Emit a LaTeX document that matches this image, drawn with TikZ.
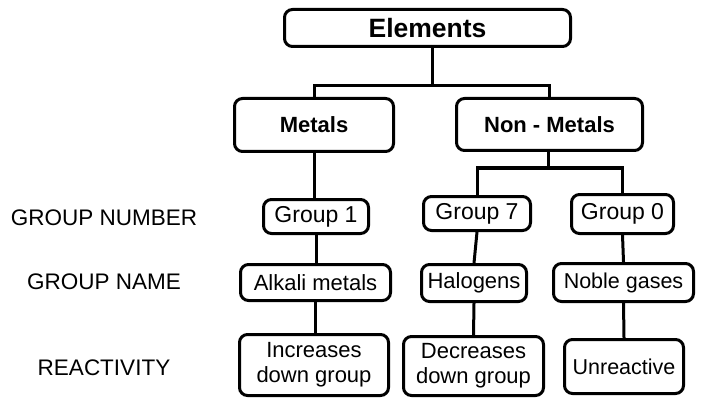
\documentclass[tikz,border=0pt]{standalone}
\usepackage{fontspec}
\setmainfont{Liberation Sans}
\begin{document}
\begin{tikzpicture}[x=1pt,y=-1pt,
  box/.style={draw, line width=3pt, rounded corners=8pt, inner sep=0pt,
    align=center, font=\fontsize{22}{25}\selectfont},
  groupbox/.style={box, font=\fontsize{23}{26}\selectfont},
  bigbox/.style={box, font=\fontsize{22}{26}\selectfont\bfseries},
  rowlabel/.style={inner sep=0pt, font=\fontsize{22.5}{25}\selectfont},
  link/.style={line width=3pt}]
\useasboundingbox (0,0) rectangle (703,398);

% top level
\node[bigbox, font=\fontsize{26.5}{29}\selectfont\bfseries,
  minimum width=286pt, minimum height=37pt] (elements) at (427.5,28) {Elements};
\node[bigbox, minimum width=159pt, minimum height=53pt] (metals) at (314,125) {Metals};
\node[bigbox, minimum width=186pt, minimum height=52pt] (nonmetals) at (549.5,124.5) {Non - Metals};

% group numbers
\node[groupbox, minimum width=105pt, minimum height=34pt] (g1) at (316,216.5) {Group 1};
\node[groupbox, minimum width=107pt, minimum height=34pt] (g7) at (477,213.5) {Group 7};
\node[groupbox, minimum width=102pt, minimum height=39pt] (g0) at (622.5,214) {Group 0};

% group names
\node[box, minimum width=150pt, minimum height=36pt] (alkali) at (315.5,282.5) {Alkali metals};
\node[box, minimum width=105pt, minimum height=37pt] (halogens) at (474,283) {Halogens};
\node[box, font=\fontsize{21.5}{25}\selectfont,
  minimum width=140pt, minimum height=38pt] (noble) at (623.5,282.5) {Noble gases};

% reactivity
\node[box, minimum width=149pt, minimum height=61pt] (incr) at (314,365) {Increases\\down group};
\node[box, minimum width=140pt, minimum height=59pt] (decr) at (473.5,366) {Decreases\\down group};
\node[box, font=\fontsize{21.5}{25}\selectfont,
  minimum width=119pt, minimum height=54pt] (unreact) at (624,366.5) {Unreactive};

% row captions
\node[rowlabel] (lblnum) at (104,218) {GROUP NUMBER};
\node[rowlabel] (lblname) at (104,282) {GROUP NAME};
\node[rowlabel] (lblreact) at (104,368) {REACTIVITY};

% connectors
\coordinate (bus1) at (432,86);
\coordinate (bus2) at (548,168);
\draw[link] (elements.south -| bus1) -- (bus1);
\draw[link] (metals.north) |- (bus1) -| (nonmetals.north);
\draw[link] (metals.south) -- (metals.south |- g1.north);
\draw[link] (nonmetals.south -| bus2) -- (bus2);
\draw[link] (g7.north) |- (bus2) -| (g0.north);
\draw[link] (g1.south) -- (g1.south |- alkali.north);
\draw[link] (g7.south) -- (halogens.north);
\draw[link] (g0.south) -- (noble.north);
\draw[link] (alkali.south) -- (alkali.south |- incr.north);
\draw[link] (halogens.south) -- (decr.north);
\draw[link] (noble.south) -- (unreact.north);
\end{tikzpicture}
\end{document}
